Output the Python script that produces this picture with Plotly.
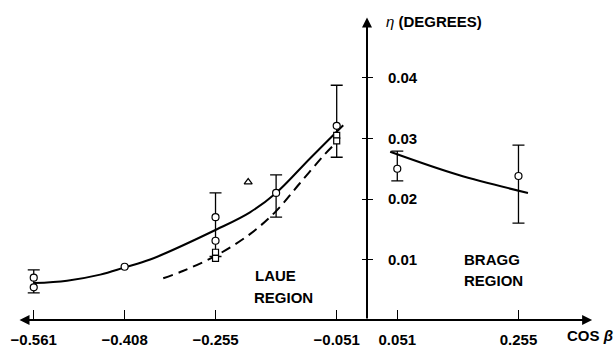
import plotly.graph_objects as go

# ---------------- data ----------------
x_ticks = [-0.561, -0.408, -0.255, -0.051, 0.051, 0.255]
x_tick_labels = ["−0.561", "−0.408", "−0.255", "−0.051", "0.051", "0.255"]
y_ticks = [0.01, 0.02, 0.03, 0.04]
y_tick_labels = ["0.01", "0.02", "0.03", "0.04"]

# open circles
circle_x = [-0.561, -0.561, -0.408, -0.255, -0.255, -0.153, -0.051, 0.051, 0.255]
circle_y = [0.0070, 0.0054, 0.0088, 0.0170, 0.0131, 0.0210, 0.0321, 0.0250, 0.0238]

# open squares
square_x = [-0.255, -0.255, -0.051, -0.051]
square_y = [0.0112, 0.0102, 0.0305, 0.0296]

# open triangle
triangle_x = [-0.200]
triangle_y = [0.0228]

# error bars (low / high)
err_x = [-0.561, -0.255, -0.153, -0.051, 0.051, 0.255]
err_low = [0.0045, 0.0105, 0.0170, 0.0269, 0.0230, 0.0160]
err_high = [0.0083, 0.0210, 0.0240, 0.0388, 0.0279, 0.0289]

# Laue region, solid curve
laue_x = [-0.561, -0.505, -0.449, -0.408, -0.365, -0.2525, -0.197, -0.153, -0.096, -0.040]
laue_y = [0.0061, 0.0065, 0.0075, 0.0087, 0.0100, 0.0150, 0.0178, 0.0210, 0.0267, 0.0322]

# Laue region, dashed curve
dash_x = [-0.343, -0.310, -0.253, -0.197, -0.153, -0.113, -0.071, -0.054]
dash_y = [0.0069, 0.0081, 0.0107, 0.0142, 0.0180, 0.0226, 0.0274, 0.0291]

# Bragg region curve
bragg_x = [0.039, 0.153, 0.271]
bragg_y = [0.0278, 0.0240, 0.0210]

# ---------------- figure ----------------
W, H = 614, 347
x_range = [-0.6178, 0.4158]
y_range = [-0.00446, 0.05289]
x0_frac = (0 - x_range[0]) / (x_range[1] - x_range[0])
y0_frac = (0 - y_range[0]) / (y_range[1] - y_range[0])

FONT = "Liberation Sans, Arial, sans-serif"
bold = dict(family=FONT, size=15, color="black", weight="bold")

fig = go.Figure()

err_mid = [(lo + hi) / 2 for lo, hi in zip(err_low, err_high)]
err_half = [(hi - lo) / 2 for lo, hi in zip(err_low, err_high)]
fig.add_trace(go.Scatter(
    x=err_x, y=err_mid, mode="markers",
    marker=dict(size=1, opacity=0),
    error_y=dict(type="data", symmetric=False, array=err_half, arrayminus=err_half,
                 color="black", thickness=1.3, width=6),
    hoverinfo="skip", showlegend=False))

fig.add_trace(go.Scatter(x=laue_x, y=laue_y, mode="lines",
                         line=dict(color="black", width=2, shape="spline", smoothing=1),
                         showlegend=False))
fig.add_trace(go.Scatter(x=dash_x, y=dash_y, mode="lines",
                         line=dict(color="black", width=2, shape="spline", smoothing=1,
                                   dash="10px,6px"),
                         showlegend=False))
fig.add_trace(go.Scatter(x=bragg_x, y=bragg_y, mode="lines", yaxis="y2",
                         line=dict(color="black", width=2, shape="spline"),
                         showlegend=False))

fig.add_trace(go.Scatter(x=circle_x, y=circle_y, mode="markers",
                         marker=dict(symbol="circle", size=7, color="white",
                                     line=dict(color="black", width=1.2)),
                         showlegend=False))
fig.add_trace(go.Scatter(x=square_x, y=square_y, mode="markers",
                         marker=dict(symbol="square", size=6, color="white",
                                     line=dict(color="black", width=1.2)),
                         showlegend=False))
fig.add_trace(go.Scatter(x=triangle_x, y=triangle_y, mode="markers",
                         marker=dict(symbol="triangle-up", size=7, color="white",
                                     line=dict(color="black", width=1.2)),
                         showlegend=False))

# axis lines with arrowheads
fig.add_annotation(x=0.379, y=0, ax=-0.5875, ay=0, xref="x", yref="y",
                   axref="x", ayref="y", text="", showarrow=True,
                   arrowhead=2, startarrowhead=2, arrowside="end+start",
                   arrowsize=1, arrowwidth=2, arrowcolor="black",
                   standoff=0, startstandoff=0)
fig.add_annotation(x=0, y=0.0500, ax=0, ay=0, xref="x", yref="y",
                   axref="x", ayref="y", text="", showarrow=True,
                   arrowhead=2, arrowsize=1, arrowwidth=2, arrowcolor="black",
                   standoff=0)

# texts
def label(txt, x, y, xanchor="left", font=bold):
    fig.add_annotation(x=x, y=y, xref="x", yref="y", text=txt, showarrow=False,
                       xanchor=xanchor, yanchor="middle", font=font)

label("LAUE", -0.192, 0.00744)
label("REGION", -0.194, 0.0038)
label("BRAGG", 0.160, 0.00992)
label("REGION", 0.160, 0.00661)
label("COS <i>β</i>", 0.333, -0.0025)
label("<i style='font-weight:normal'>η</i> (DEGREES)", 0.029, 0.04926)

fig.update_layout(
    width=W, height=H,
    margin=dict(l=0, r=0, t=0, b=0),
    paper_bgcolor="white", plot_bgcolor="white",
    font=dict(family=FONT, color="black"),
    xaxis=dict(range=x_range, tickvals=x_ticks, ticktext=x_tick_labels,
               ticks="inside", ticklen=10, tickwidth=1.3, tickcolor="black",
               showgrid=False, zeroline=False, showline=False,
               anchor="free", position=y0_frac, tickfont=bold,
               ticklabelstandoff=9),
    yaxis=dict(range=y_range, tickvals=y_ticks, ticktext=y_tick_labels,
               ticks="outside", ticklen=5, tickwidth=1.3, tickcolor="black",
               side="right", anchor="free", position=x0_frac,
               showgrid=False, zeroline=False, showline=False,
               tickfont=bold, ticklabelstandoff=12),
    yaxis2=dict(overlaying="y", matches="y", side="left", anchor="free",
                position=x0_frac, tickvals=y_ticks, ticks="outside", ticklen=5,
                tickwidth=1.3, tickcolor="black", showticklabels=False,
                showgrid=False, zeroline=False, showline=False),
)

fig.write_html("out.html", config={"displayModeBar": False},
               post_script="document.body.style.margin='0';document.body.style.overflow='hidden';")
